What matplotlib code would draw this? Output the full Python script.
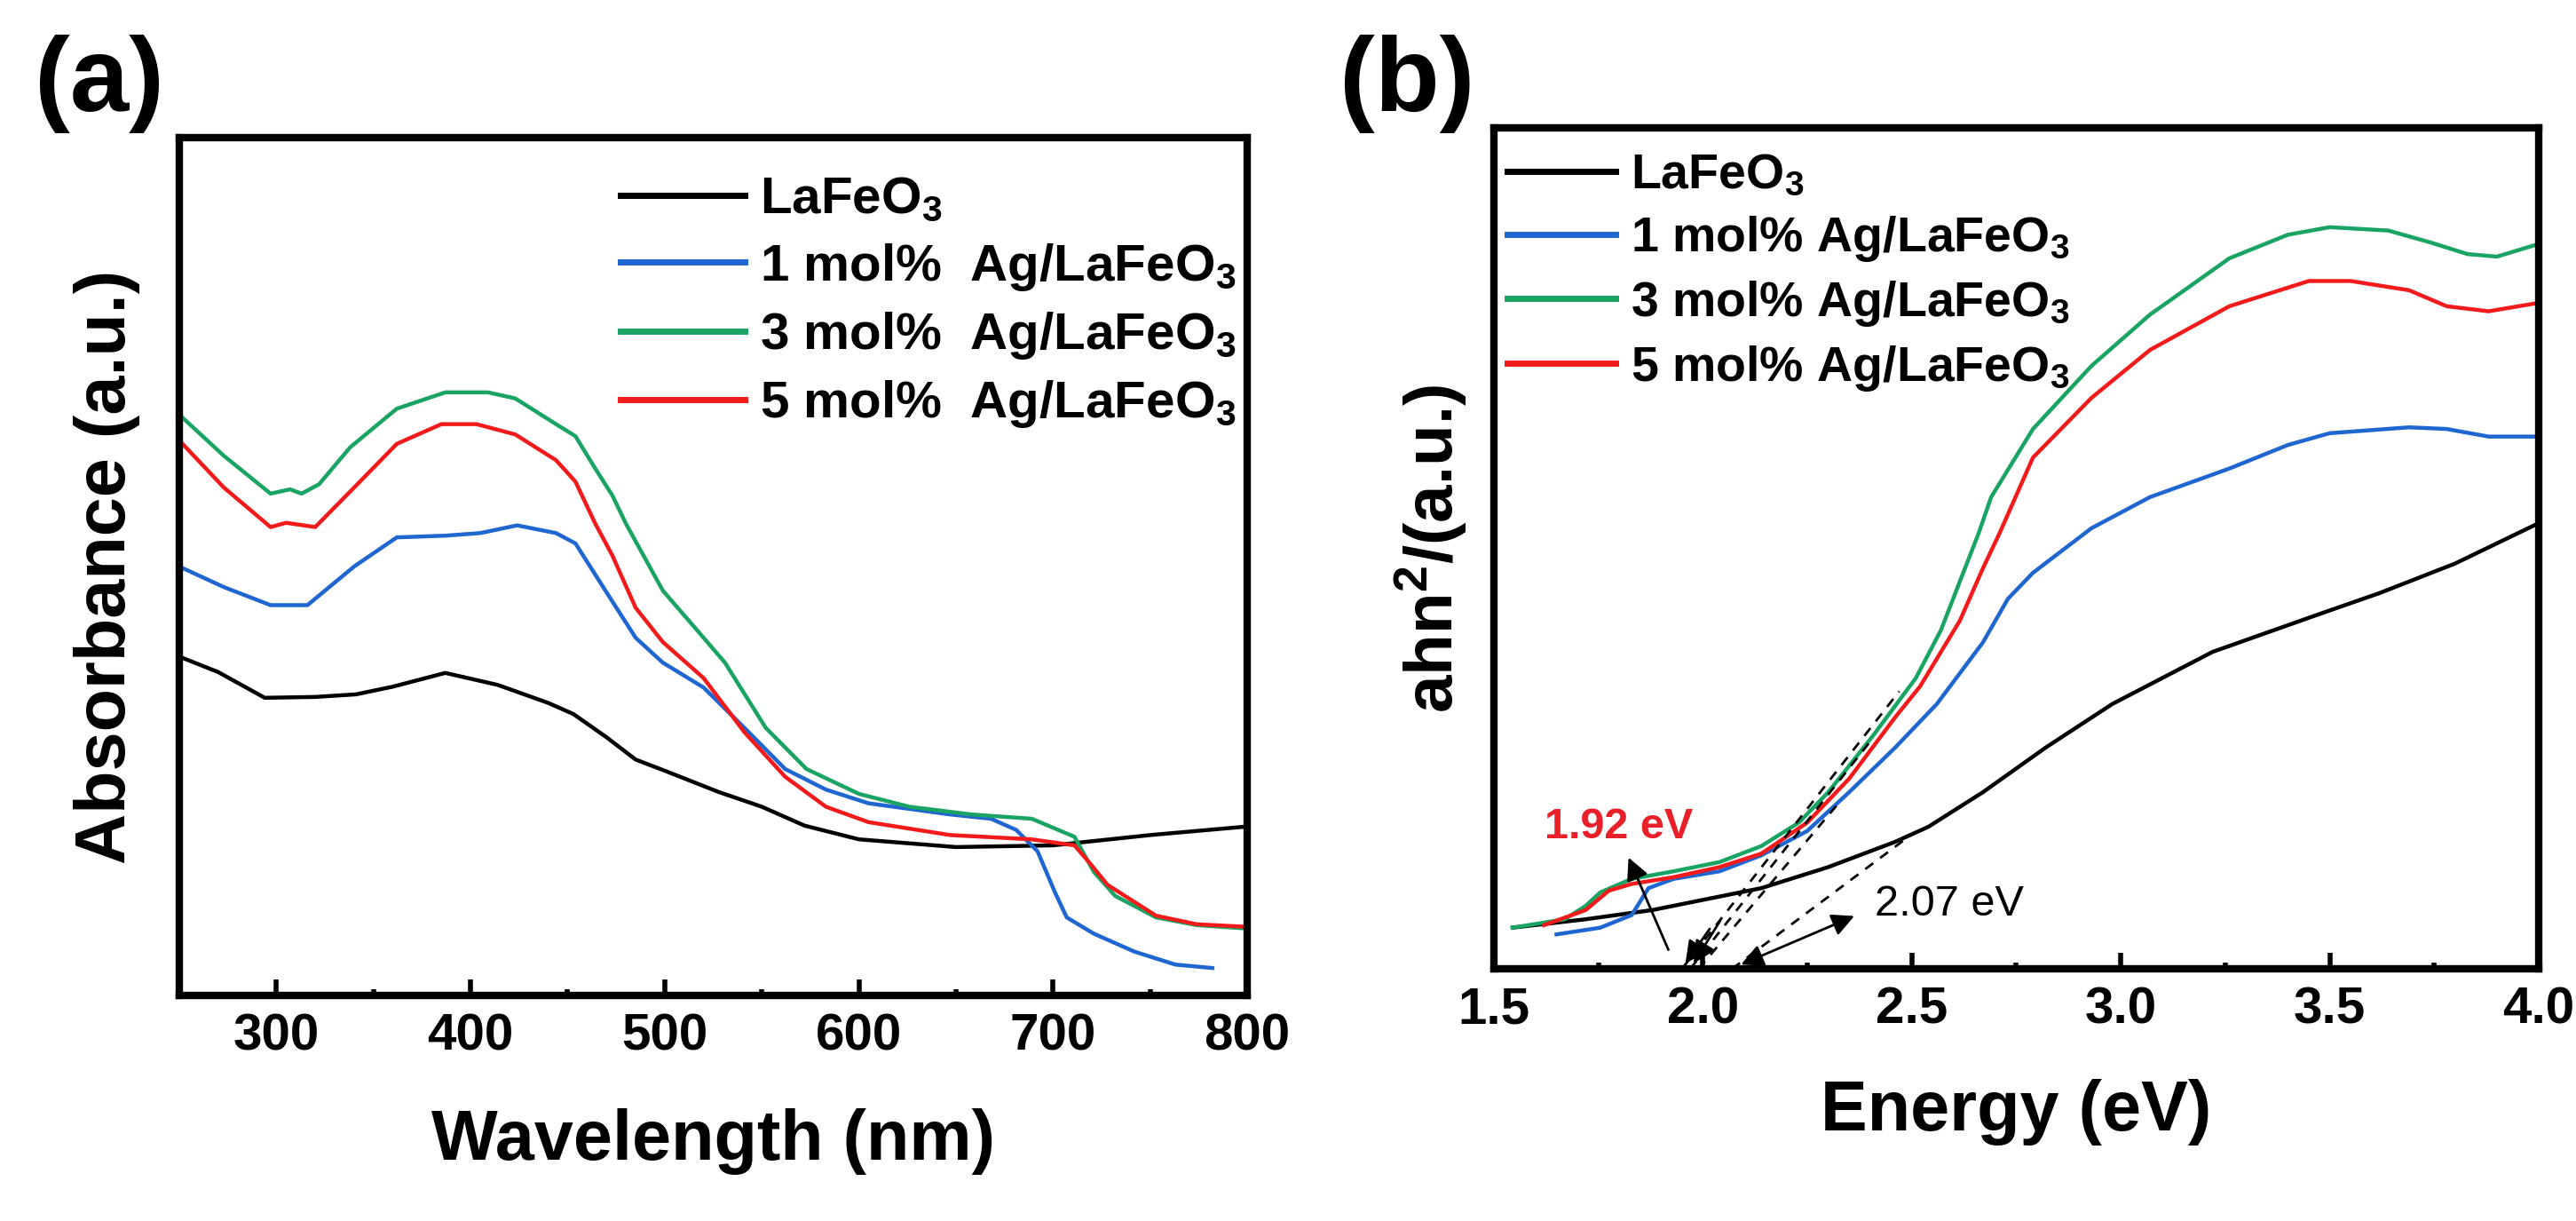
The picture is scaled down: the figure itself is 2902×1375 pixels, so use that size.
import matplotlib
matplotlib.use("Agg")
import matplotlib.pyplot as plt
from matplotlib.ticker import MultipleLocator

plt.rcParams["font.family"] = ["Liberation Sans", "DejaVu Sans"]
plt.rcParams["font.weight"] = "bold"
plt.rcParams["mathtext.fontset"] = "custom"
plt.rcParams["mathtext.rm"] = "Liberation Sans:bold"
plt.rcParams["mathtext.it"] = "Liberation Sans:bold"
plt.rcParams["mathtext.bf"] = "Liberation Sans:bold"
plt.rcParams["mathtext.default"] = "rm"

# (a) UV-vis absorbance (arbitrary units)
wl_lfo = [250, 270, 294, 320, 341, 360, 387, 414, 440, 453, 470, 485, 500,
          528, 550, 572, 600, 650, 700, 750, 800]
abs_lfo = [0.395, 0.377, 0.347, 0.348, 0.351, 0.360, 0.376, 0.362, 0.341, 0.328,
           0.301, 0.275, 0.262, 0.237, 0.220, 0.198, 0.182, 0.173, 0.175, 0.187, 0.197]

wl_ag1 = [250, 273, 297, 316, 340, 362, 387, 405, 424, 444, 454, 470, 485, 499,
          520, 541, 562, 583, 605, 647, 668, 681, 692, 701, 707, 721, 742, 763, 782]
abs_ag1 = [0.500, 0.476, 0.455, 0.455, 0.500, 0.534, 0.536, 0.539, 0.548, 0.539,
           0.527, 0.470, 0.417, 0.388, 0.359, 0.312, 0.264, 0.240, 0.224, 0.211,
           0.206, 0.193, 0.168, 0.120, 0.091, 0.072, 0.051, 0.036, 0.032]

wl_ag3 = [250, 273, 297, 307, 313, 322, 338, 362, 387, 409, 423, 444, 454, 464,
          473, 480, 499, 520, 531, 552, 573, 600, 626, 658, 689, 711, 721, 732,
          753, 774, 800]
abs_ag3 = [0.677, 0.629, 0.585, 0.590, 0.585, 0.596, 0.639, 0.684, 0.703, 0.703,
           0.696, 0.666, 0.652, 0.615, 0.583, 0.550, 0.472, 0.417, 0.388, 0.312,
           0.264, 0.235, 0.220, 0.211, 0.206, 0.185, 0.144, 0.116, 0.091, 0.082, 0.078]

wl_ag5 = [250, 273, 297, 305, 320, 340, 362, 385, 403, 423, 444, 454, 464, 473,
          485, 499, 520, 541, 562, 583, 605, 647, 689, 711, 719, 728, 753, 774, 800]
abs_ag5 = [0.647, 0.592, 0.546, 0.551, 0.546, 0.592, 0.643, 0.666, 0.666, 0.654,
           0.624, 0.599, 0.551, 0.513, 0.452, 0.412, 0.370, 0.307, 0.255, 0.220,
           0.202, 0.187, 0.182, 0.175, 0.154, 0.129, 0.093, 0.083, 0.080]

# (b) Tauc plot (arbitrary units)
ev_lfo = [1.545, 1.72, 1.88, 2.04, 2.14, 2.30, 2.46, 2.54, 2.67, 2.82, 2.98,
          3.10, 3.22, 3.47, 3.62, 3.80, 3.95, 4.00]
tauc_lfo = [0.049, 0.059, 0.070, 0.086, 0.096, 0.121, 0.151, 0.169, 0.210, 0.263,
            0.315, 0.346, 0.377, 0.421, 0.447, 0.482, 0.518, 0.530]

ev_ag1 = [1.65, 1.755, 1.83, 1.87, 1.93, 2.04, 2.14, 2.25, 2.35, 2.46, 2.56, 2.67,
          2.73, 2.79, 2.93, 3.07, 3.26, 3.40, 3.50, 3.69, 3.78, 3.88, 4.00]
tauc_ag1 = [0.041, 0.049, 0.064, 0.096, 0.107, 0.116, 0.135, 0.164, 0.210, 0.263,
            0.315, 0.388, 0.440, 0.471, 0.524, 0.561, 0.595, 0.623, 0.637, 0.644,
            0.642, 0.633, 0.633]

ev_ag3 = [1.545, 1.67, 1.72, 1.755, 1.83, 1.93, 2.04, 2.14, 2.23, 2.30, 2.41, 2.51,
          2.57, 2.62, 2.66, 2.69, 2.79, 2.93, 3.07, 3.26, 3.40, 3.50, 3.64, 3.74,
          3.83, 3.90, 4.00]
tauc_ag3 = [0.049, 0.059, 0.075, 0.091, 0.107, 0.116, 0.127, 0.146, 0.174, 0.210,
            0.279, 0.346, 0.403, 0.467, 0.518, 0.561, 0.642, 0.717, 0.778, 0.845,
            0.873, 0.882, 0.878, 0.864, 0.850, 0.847, 0.862]

ev_ag5 = [1.62, 1.72, 1.775, 1.83, 1.93, 2.04, 2.14, 2.25, 2.35, 2.46, 2.52, 2.615,
          2.67, 2.71, 2.79, 2.93, 3.07, 3.26, 3.45, 3.55, 3.69, 3.78, 3.88, 4.00]
tauc_ag5 = [0.052, 0.070, 0.093, 0.101, 0.109, 0.121, 0.137, 0.174, 0.226, 0.299,
            0.336, 0.414, 0.476, 0.518, 0.608, 0.679, 0.736, 0.788, 0.818, 0.818,
            0.807, 0.788, 0.782, 0.792]

# tangent (extrapolation) lines in (b)
tan_doped_x = [[1.95, 2.47], [1.97, 2.40], [1.99, 2.33]]
tan_doped_y = [[0.0, 0.33], [0.0, 0.27], [0.0, 0.20]]
tan_lfo_x = [2.07, 2.50]
tan_lfo_y = [0.0, 0.16]

labels_a = ["LaFeO$_3$", "1 mol%  Ag/LaFeO$_3$", "3 mol%  Ag/LaFeO$_3$", "5 mol%  Ag/LaFeO$_3$"]
labels_b = ["LaFeO$_3$", "1 mol% Ag/LaFeO$_3$", "3 mol% Ag/LaFeO$_3$", "5 mol% Ag/LaFeO$_3$"]
colors = ["#000000", "#1f66d1", "#19a463", "#f21a1a"]


def style_axes(ax):
    for s in ax.spines.values():
        s.set_linewidth(6)
    ax.tick_params(axis="x", which="major", direction="in", length=13, width=4,
                   labelsize=42, pad=14, top=False)
    ax.tick_params(axis="x", which="minor", direction="in", length=5, width=4, top=False)
    ax.tick_params(axis="y", which="both", left=False, right=False, labelleft=False)
    for t in ax.get_xticklabels():
        t.set_fontweight("bold")


fig = plt.figure(figsize=(29.02, 13.75), dpi=100)

# ---------- (a) ----------
ax1 = fig.add_axes([0.0696, 0.1847, 0.4146, 0.7026])
for wl, ab, c, lab in zip([wl_lfo, wl_ag1, wl_ag3, wl_ag5],
                          [abs_lfo, abs_ag1, abs_ag3, abs_ag5], colors, labels_a):
    ax1.plot(wl, ab, color=c, lw=3.2, label=lab)
ax1.set_xlim(250, 800)
ax1.set_ylim(0, 1)
ax1.xaxis.set_major_locator(MultipleLocator(100))
ax1.xaxis.set_minor_locator(MultipleLocator(50))
style_axes(ax1)
ax1.set_xlabel("Wavelength (nm)", fontsize=57, fontweight="bold", va="center")
ax1.xaxis.set_label_coords(0.5, -0.170)
ax1.set_ylabel("Absorbance (a.u.)", fontsize=57, fontweight="bold", va="center")
ax1.yaxis.set_label_coords(-0.068, 0.5)
leg1 = ax1.legend(loc="upper left", bbox_to_anchor=(0.413, 0.955), frameon=False,
                  fontsize=42, handlelength=2.4, handletextpad=0.3, labelspacing=0.33,
                  borderpad=0, borderaxespad=0)
for line in leg1.get_lines():
    line.set_linewidth(5)

# ---------- (b) ----------
ax2 = fig.add_axes([0.5799, 0.2065, 0.4056, 0.6887])
for ev, tv, c, lab in zip([ev_lfo, ev_ag1, ev_ag3, ev_ag5],
                          [tauc_lfo, tauc_ag1, tauc_ag3, tauc_ag5], colors, labels_b):
    ax2.plot(ev, tv, color=c, lw=3.2, label=lab)
for tx, ty in zip(tan_doped_x, tan_doped_y):
    ax2.plot(tx, ty, color="k", lw=2, linestyle=(0, (4, 3.5)))
ax2.plot(tan_lfo_x, tan_lfo_y, color="k", lw=2, linestyle=(0, (4, 3.5)))

arrow = dict(arrowstyle="-|>", color="k", lw=2, mutation_scale=38)
ax2.annotate("", xy=(1.82, 0.135), xytext=(1.92, 0.02), arrowprops=arrow)
ax2.annotate("", xy=(1.955, 0.004), xytext=(2.02, 0.05), arrowprops=arrow)
ax2.annotate("", xy=(1.975, 0.004), xytext=(2.045, 0.06), arrowprops=arrow)
ax2.annotate("", xy=(2.086, 0.004), xytext=(2.368, 0.064),
             arrowprops=dict(arrowstyle="<|-|>", color="k", lw=2, mutation_scale=38))
ax2.text(1.80, 0.169, "1.92 eV", color="#e8202a", fontsize=35, fontweight="bold",
         ha="center", va="center")
ax2.text(2.59, 0.077, "2.07 eV", color="k", fontsize=35, fontweight="normal",
         ha="center", va="center")

ax2.set_xlim(1.5, 4.0)
ax2.set_ylim(0, 1)
ax2.xaxis.set_major_locator(MultipleLocator(0.5))
ax2.xaxis.set_minor_locator(MultipleLocator(0.25))
ax2.xaxis.set_major_formatter(matplotlib.ticker.FormatStrFormatter("%.1f"))
style_axes(ax2)
ax2.set_xlabel("Energy (eV)", fontsize=57, fontweight="bold", va="center")
ax2.xaxis.set_label_coords(0.5, -0.170)
ax2.set_ylabel("ahn$^2$/(a.u.)", fontsize=55, fontweight="bold", va="center")
ax2.yaxis.set_label_coords(-0.06, 0.5)
leg2 = ax2.legend(loc="upper left", bbox_to_anchor=(0.013, 0.97), frameon=False,
                  fontsize=40, handlelength=2.2, handletextpad=0.29, labelspacing=0.3,
                  borderpad=0, borderaxespad=0)
for line in leg2.get_lines():
    line.set_linewidth(5)

fig.text(0.0386, 0.9316, "(a)", fontsize=86, fontweight="bold", ha="center", va="center")
fig.text(0.5462, 0.9316, "(b)", fontsize=86, fontweight="bold", ha="center", va="center")

fig.savefig("out.png", dpi=100)
